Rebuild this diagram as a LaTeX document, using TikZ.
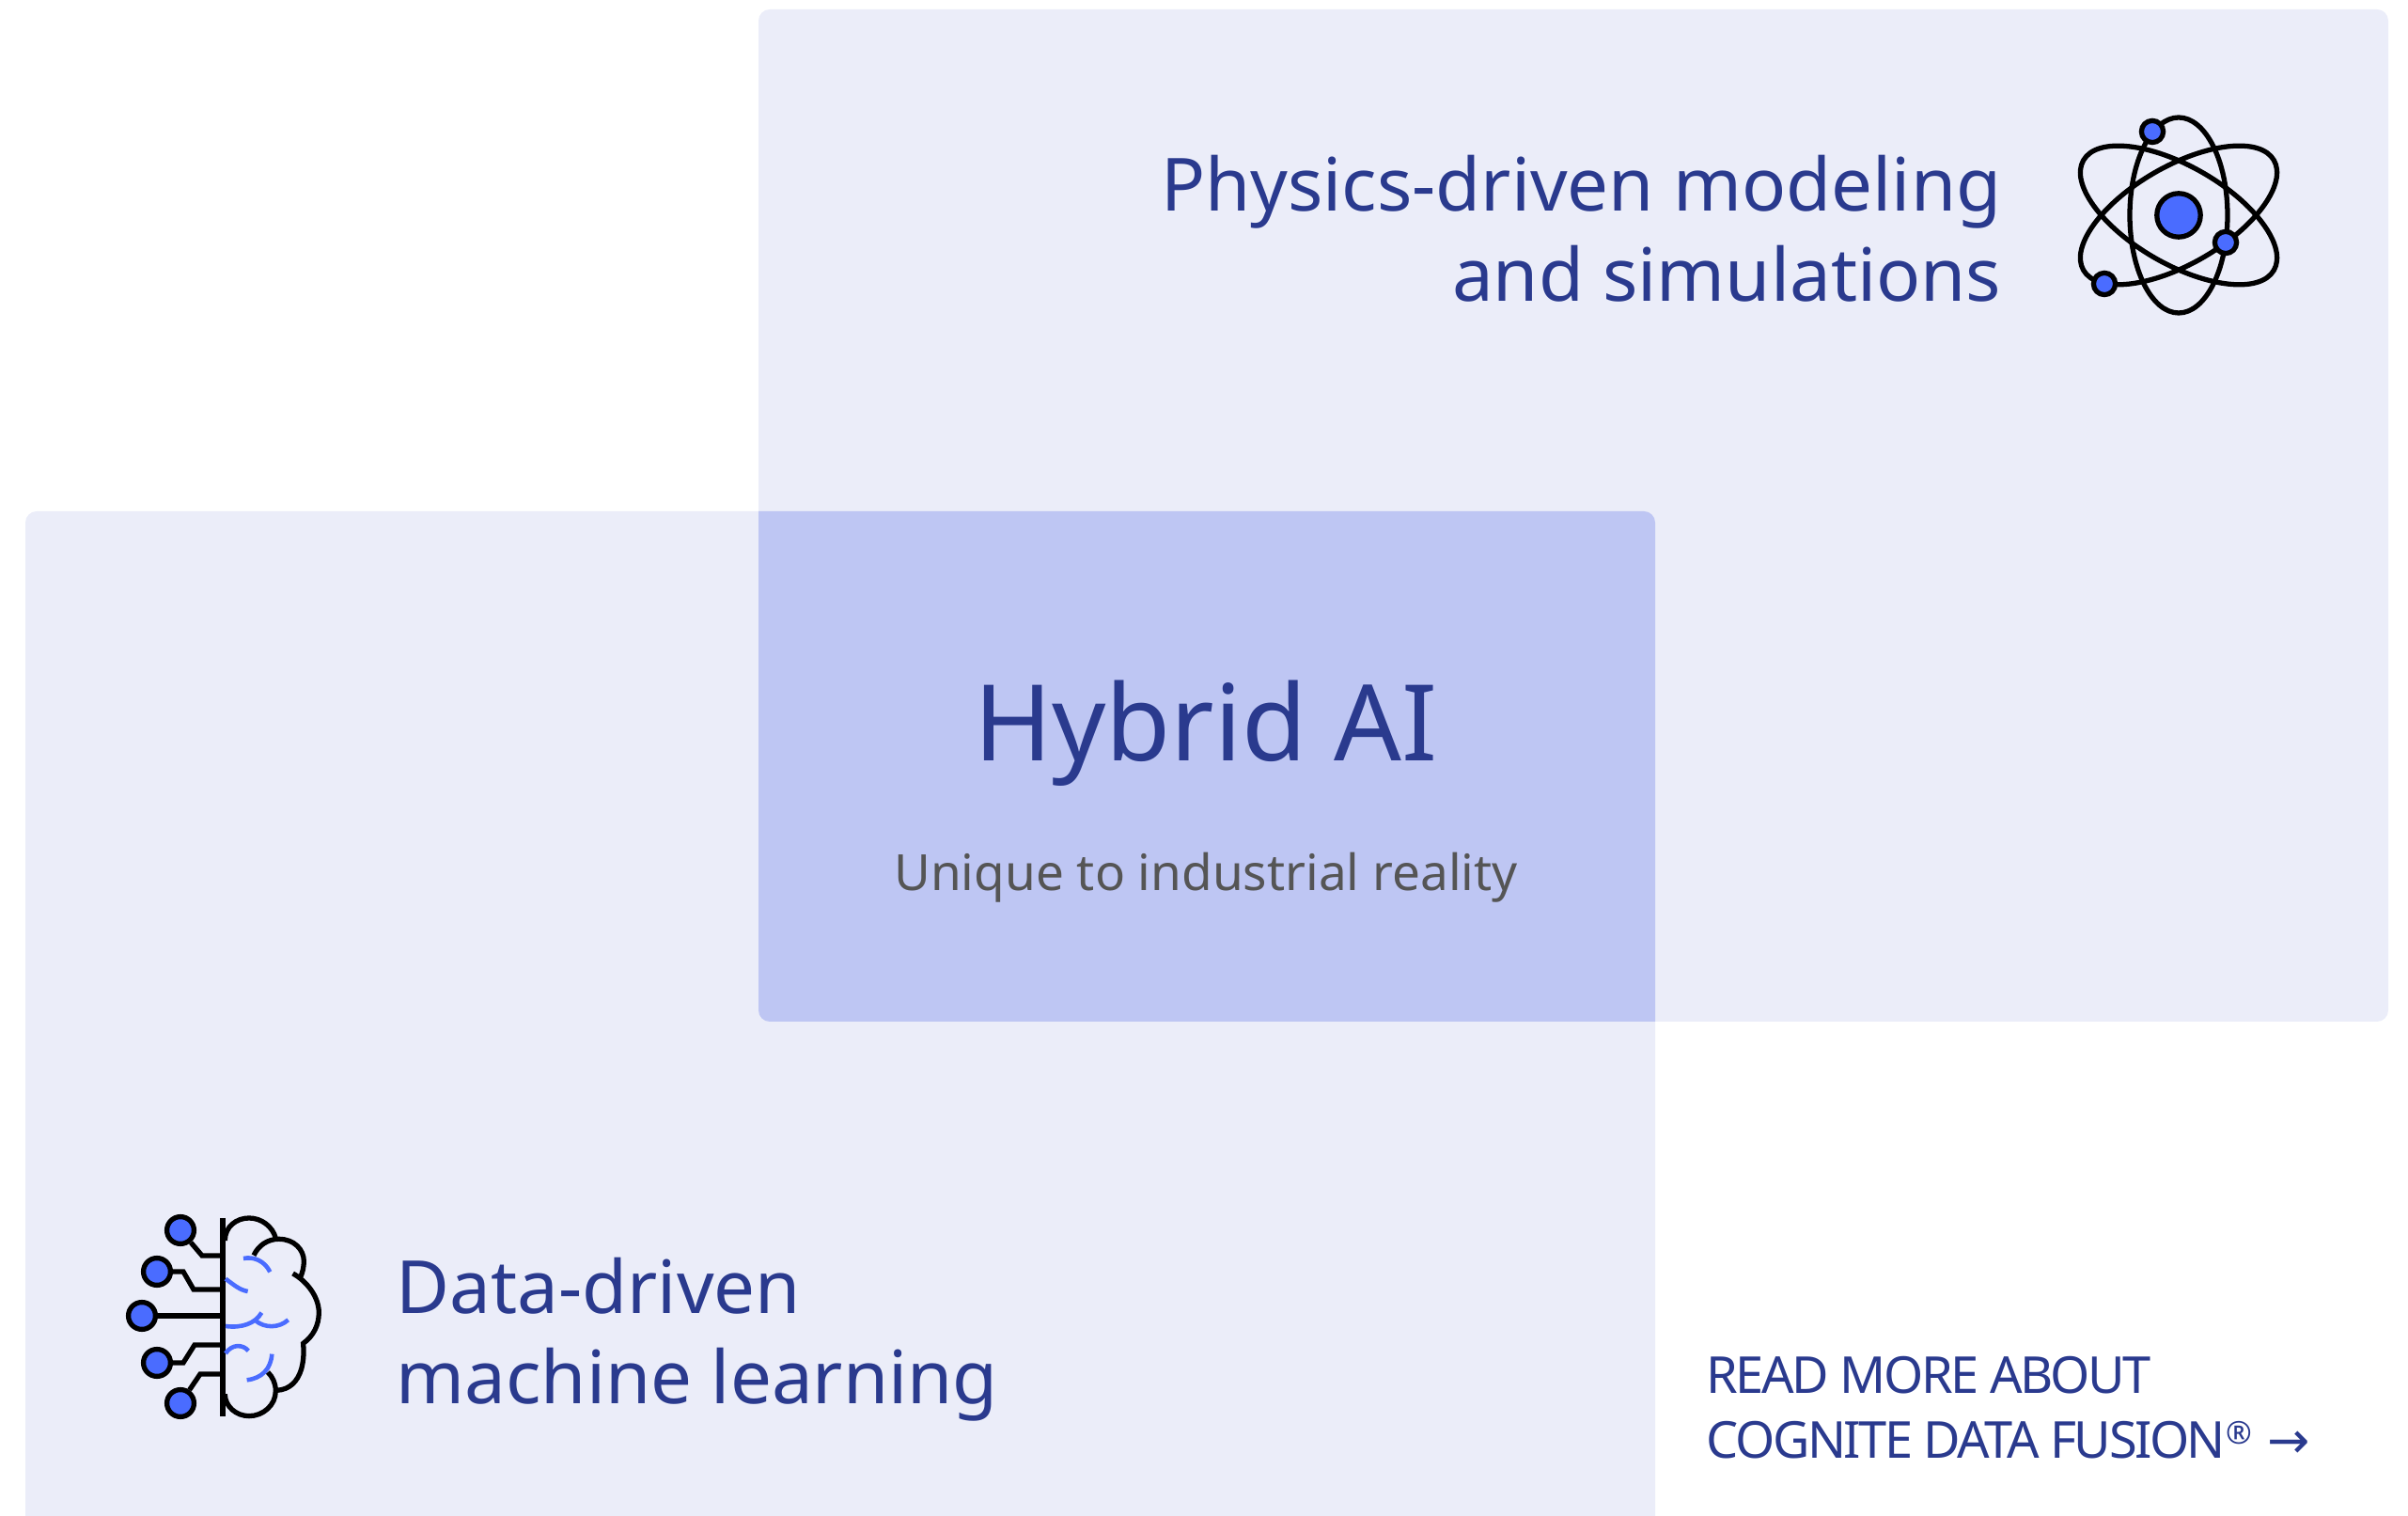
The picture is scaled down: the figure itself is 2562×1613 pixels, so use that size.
\documentclass[tikz,border=0pt]{standalone}
\usepackage{fontspec}
\setmainfont{Noto Sans}
\newfontfamily\arrowfont{DejaVu Sans}
\newfontfamily\tightfont[LetterSpace=-4.6]{Noto Sans}
\definecolor{panelblue}{HTML}{EBEDF9}
\definecolor{overlapblue}{HTML}{BEC6F3}
\definecolor{inkblue}{HTML}{2A3A8E}
\definecolor{dotblue}{HTML}{4A6CFF}
\definecolor{subgrey}{HTML}{555555}
\tikzset{
  title/.style={inkblue,inner sep=0pt,align=left,font=\fontsize{22.2}{27.4}\selectfont},
  icon/.style={black,line width=1.5pt},
  brainfold/.style={dotblue,line width=1.3pt},
  atomdot/.style={circle,draw=black,fill=dotblue,line width=1.5pt,inner sep=0pt,minimum size=6.6pt},
  braindot/.style={circle,draw=black,fill=dotblue,line width=1.5pt,inner sep=0pt,minimum size=8.2pt}
}
\begin{document}
\begin{tikzpicture}[x=0.01cm,y=-0.01cm]
   \useasboundingbox (0,0) rectangle (2562,1613);
   \clip (0,0) rectangle (2562,1613);
   % panels
   \fill[panelblue,rounded corners=0.12cm] (807,10) rectangle (2541,1087);
   \fill[panelblue,rounded corners=0.12cm] (27,544) rectangle (1761,1700);
   \begin{scope}
      \clip[rounded corners=0.12cm] (807,10) rectangle (2541,1087);
      \fill[overlapblue,rounded corners=0.12cm] (27,544) rectangle (1761,1700);
   \end{scope}
   % texts
   \node (physics) at (2130,321) [title,align=right,anchor=base east] {Physics-driven modeling\\and simulations};
   \node (data) at (421,1494) [title,anchor=base west] {Data-driven\\machine learning};
   \node (hybrid) at (1283,810) [anchor=base,inner sep=0pt,inkblue,font=\fontsize{32}{40}\selectfont] {Hybrid AI};
   \node (unique) at (1283,948) [anchor=base,inner sep=0pt,subgrey,font=\fontsize{15.1}{20}\selectfont] {Unique to industrial reality};
   \node (more) at (1815,1552) [anchor=base west,inner sep=0pt,inkblue,align=left,font=\fontsize{15.4}{19.9}\tightfont] {READ MORE ABOUT\\COGNITE DATA FUSION\raisebox{0.55ex}{\fontsize{9.5}{10}\selectfont ®}\hspace{0.3em}{\arrowfont →}};
   % atom
   \node (nucleus) at (2318,229) [circle,draw=black,fill=dotblue,line width=1.5pt,inner sep=0pt,minimum size=13.2pt] {};
   \draw[icon] (nucleus.center) ellipse (52 and 104);
   \draw[icon,rotate around={30:(nucleus.center)}] (nucleus.center) ellipse (117 and 52);
   \draw[icon,rotate around={-30:(nucleus.center)}] (nucleus.center) ellipse (117 and 52);
   \node (electronA) at (2290,140) [atomdot] {};
   \node (electronB) at (2368,258) [atomdot] {};
   \node (electronC) at (2239,302) [atomdot] {};
   % brain
   \node (dotA) at (192,1309) [braindot] {};
   \node (dotB) at (167,1353) [braindot] {};
   \node (dotC) at (151,1400) [braindot] {};
   \node (dotD) at (167,1450) [braindot] {};
   \node (dotE) at (192,1493) [braindot] {};
   \coordinate (spineTop) at (237,1296);
   \coordinate (spineBottom) at (237,1507);
   \coordinate (spineA) at (237,1336);
   \coordinate (spineB) at (237,1372);
   \coordinate (spineC) at (237,1400);
   \coordinate (spineD) at (237,1431);
   \coordinate (spineE) at (237,1462);
   \draw[icon] (spineTop) -- (spineBottom);
   \draw[icon] (dotA) -- (215,1336) -- (spineA);
   \draw[icon] (dotB) -- (195,1353) -- (206,1372) -- (spineB);
   \draw[icon] (dotC) -- (spineC);
   \draw[icon] (dotD) -- (195,1450) -- (207,1431) -- (spineD);
   \draw[icon] (dotE) -- (213,1462) -- (spineE);
   \begin{scope}[shift={(110,1270)},scale=0.3333]
      \draw[icon] (388,150) .. controls (388,105) and (425,78) .. (465,78) .. controls (505,78) and (540,105) .. (550,142);
      \draw[icon] (480,197) .. controls (495,165) and (525,145) .. (560,145) .. controls (610,145) and (640,180) .. (640,215) .. controls (640,235) and (636,250) .. (630,265);
      \draw[icon] (605,255) .. controls (650,280) and (688,330) .. (688,380) .. controls (688,420) and (670,455) .. (638,478) .. controls (640,505) and (640,530) .. (632,560) .. controls (620,600) and (595,625) .. (555,628);
      \draw[icon] (525,570) .. controls (540,585) and (550,605) .. (550,630) .. controls (550,675) and (510,710) .. (465,710) .. controls (425,710) and (388,680) .. (388,640);
      \draw[brainfold] (447,207) .. controls (480,200) and (515,215) .. (532,250);
      \draw[brainfold] (390,272) .. controls (415,290) and (435,308) .. (461,312);
      \draw[brainfold] (390,423) .. controls (440,430) and (485,415) .. (505,380);
      \draw[brainfold] (485,405) .. controls (515,430) and (560,430) .. (590,403);
      \draw[brainfold] (390,510) .. controls (410,480) and (445,480) .. (463,502);
      \draw[brainfold] (538,512) .. controls (535,560) and (505,590) .. (458,595);
   \end{scope}
\end{tikzpicture}
\end{document}
